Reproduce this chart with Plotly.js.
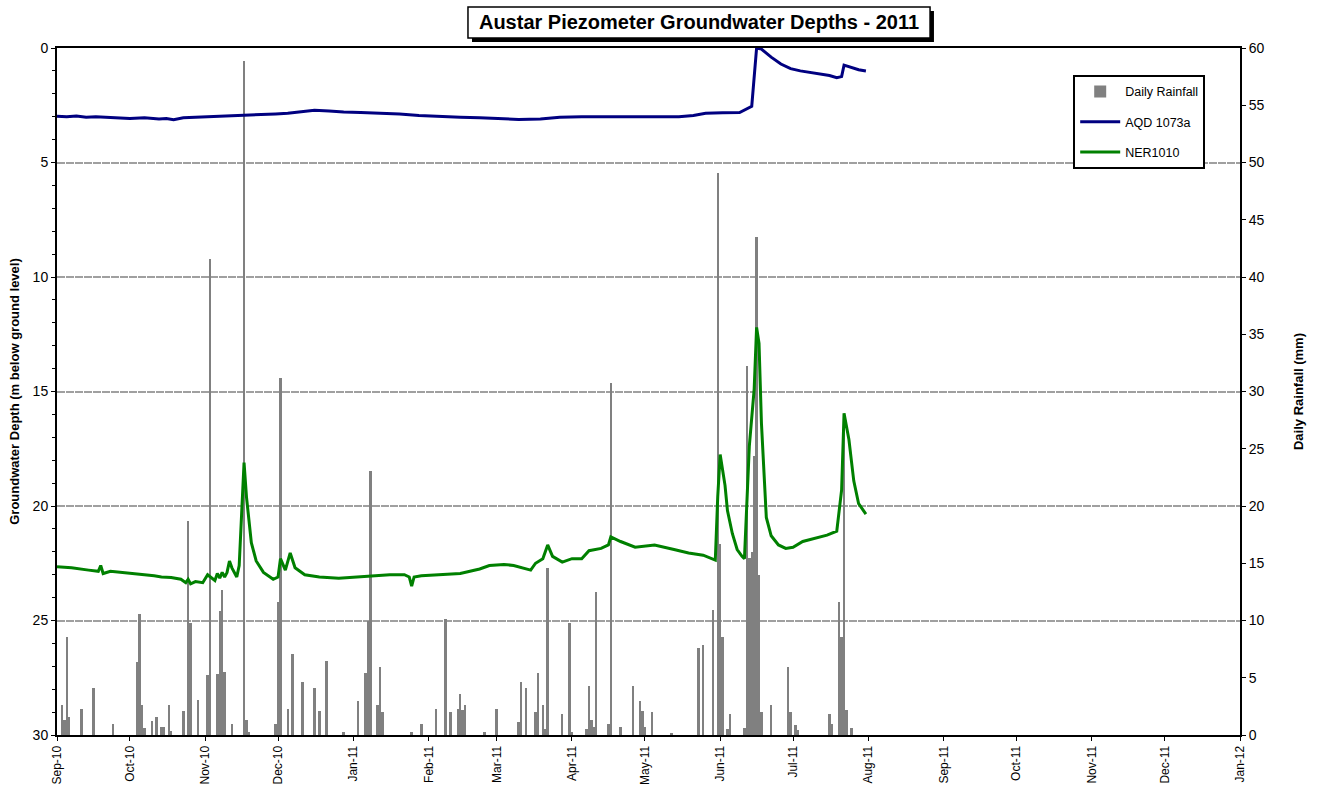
<!DOCTYPE html>
<html>
<head>
<meta charset="utf-8">
<script src="https://cdn.plot.ly/plotly-3.0.1.min.js"></script>
<style>html,body{margin:0;padding:0;background:#fff;}#chart{width:1320px;height:789px;}</style>
</head>
<body>
<div id="chart"></div>
<script>
// Daily rainfall (mm), right axis
var rainDates = ["2010-09-03","2010-09-04","2010-09-05","2010-09-06","2010-09-11","2010-09-16","2010-09-24",
"2010-10-04","2010-10-05","2010-10-06","2010-10-07","2010-10-10","2010-10-12","2010-10-14","2010-10-15","2010-10-17","2010-10-18","2010-10-23","2010-10-25","2010-10-26","2010-10-29",
"2010-11-02","2010-11-03","2010-11-06","2010-11-07","2010-11-08","2010-11-09","2010-11-12","2010-11-17","2010-11-18","2010-11-19","2010-11-30",
"2010-12-01","2010-12-02","2010-12-05","2010-12-07","2010-12-11","2010-12-16","2010-12-18","2010-12-21","2010-12-28",
"2011-01-03","2011-01-06","2011-01-07","2011-01-08","2011-01-11","2011-01-12","2011-01-13","2011-01-25","2011-01-29",
"2011-02-04","2011-02-08","2011-02-10","2011-02-13","2011-02-14","2011-02-15","2011-02-16","2011-02-24",
"2011-03-01","2011-03-10","2011-03-11","2011-03-13","2011-03-17","2011-03-18","2011-03-20","2011-03-21","2011-03-22","2011-03-28","2011-03-31",
"2011-04-01","2011-04-07","2011-04-08","2011-04-09","2011-04-10","2011-04-11","2011-04-16","2011-04-17","2011-04-21","2011-04-26","2011-04-29","2011-04-30",
"2011-05-01","2011-05-04","2011-05-12","2011-05-23","2011-05-25","2011-05-29","2011-05-31",
"2011-06-01","2011-06-02","2011-06-04","2011-06-05","2011-06-11","2011-06-12","2011-06-13","2011-06-14","2011-06-15","2011-06-16","2011-06-17","2011-06-18","2011-06-22","2011-06-29","2011-06-30",
"2011-07-02","2011-07-03","2011-07-16","2011-07-17","2011-07-20","2011-07-21","2011-07-22","2011-07-23","2011-07-25"];
var rainMm = [2.6,1.3,8.6,1.6,2.3,4.1,1.0,
6.4,10.6,2.6,0.6,1.2,1.6,0.7,0.7,2.6,0.35,2.1,18.7,9.8,3.1,
5.2,41.6,5.3,10.8,12.7,5.5,1.0,58.9,1.3,0.3,1.0,
11.6,31.2,2.3,7.1,4.6,4.1,2.1,6.5,0.3,
3.0,5.4,10.0,23.1,2.6,5.9,2.0,0.3,1.0,
2.3,10.1,2.0,2.3,3.6,2.2,2.6,0.3,
2.3,1.1,4.6,4.1,2.0,5.4,2.6,0.5,14.6,1.8,9.8,
0.3,0.5,4.3,1.3,0.7,12.5,1.0,30.7,0.7,4.3,3.0,2.1,
0.7,2.0,0.2,7.6,7.9,10.9,49.1,
16.7,8.6,0.5,1.8,0.6,32.2,15.5,16.0,24.4,43.5,14.0,2.0,2.6,5.9,2.0,
0.9,0.4,1.8,1.0,11.6,8.6,28.0,2.2,0.6];

// AQD 1073a groundwater depth (m below ground level), left axis
var aqdDates = ["2010-09-01","2010-09-05","2010-09-09","2010-09-13","2010-09-17","2010-09-21","2010-09-25","2010-10-01","2010-10-07","2010-10-13","2010-10-16","2010-10-19","2010-10-23","2010-10-31",
"2010-11-08","2010-11-15","2010-11-22","2010-11-30","2010-12-05","2010-12-10","2010-12-16","2010-12-22","2010-12-28",
"2011-01-04","2011-01-11","2011-01-20","2011-01-28","2011-02-06","2011-02-14","2011-02-22","2011-03-02","2011-03-10","2011-03-19","2011-03-27",
"2011-04-05","2011-04-13","2011-04-21","2011-04-29","2011-05-07","2011-05-15","2011-05-21","2011-05-26","2011-06-02","2011-06-09","2011-06-14",
"2011-06-16","2011-06-18","2011-06-22","2011-06-26","2011-06-30","2011-07-04","2011-07-10","2011-07-16","2011-07-19","2011-07-21","2011-07-22","2011-07-25","2011-07-28","2011-07-31"];
var aqdDepth = [2.98,3.0,2.97,3.02,3.0,3.03,3.05,3.08,3.05,3.1,3.08,3.13,3.05,3.02,
2.98,2.95,2.92,2.88,2.85,2.78,2.72,2.75,2.8,
2.82,2.85,2.88,2.95,3.0,3.02,3.05,3.1,3.12,3.1,3.02,
3.0,3.0,2.98,3.0,2.98,3.0,2.95,2.85,2.83,2.82,2.55,
0.0,0.05,0.4,0.7,0.9,1.0,1.1,1.2,1.3,1.25,0.75,0.85,0.95,1.0];

// NER1010 groundwater depth (m below ground level), left axis
var nerDates = ["2010-09-01","2010-09-07","2010-09-14","2010-09-18","2010-09-19","2010-09-20","2010-09-23","2010-09-28",
"2010-10-03","2010-10-07","2010-10-11","2010-10-14","2010-10-18","2010-10-22","2010-10-24","2010-10-25","2010-10-26","2010-10-28","2010-10-31",
"2010-11-02","2010-11-05","2010-11-06","2010-11-07","2010-11-08","2010-11-09","2010-11-10","2010-11-11","2010-11-12","2010-11-14","2010-11-15","2010-11-17","2010-11-18","2010-11-20","2010-11-22","2010-11-25","2010-11-29",
"2010-12-01","2010-12-02","2010-12-04","2010-12-06","2010-12-08","2010-12-12","2010-12-18","2010-12-26",
"2011-01-01","2011-01-09","2011-01-16","2011-01-22","2011-01-24","2011-01-25","2011-01-26","2011-01-29",
"2011-02-06","2011-02-14","2011-02-18","2011-02-22","2011-02-26",
"2011-03-04","2011-03-08","2011-03-11","2011-03-15","2011-03-17","2011-03-20","2011-03-22","2011-03-24","2011-03-28",
"2011-04-01","2011-04-05","2011-04-08","2011-04-13","2011-04-16","2011-04-17","2011-04-21","2011-04-27",
"2011-05-05","2011-05-13","2011-05-19","2011-05-25","2011-05-30","2011-05-31",
"2011-06-01","2011-06-03","2011-06-04","2011-06-06","2011-06-08","2011-06-10","2011-06-11","2011-06-13","2011-06-15","2011-06-16","2011-06-17","2011-06-18","2011-06-20","2011-06-22","2011-06-25","2011-06-28",
"2011-07-01","2011-07-05","2011-07-11","2011-07-15","2011-07-19","2011-07-21","2011-07-22","2011-07-24","2011-07-26","2011-07-28","2011-07-31"];
var nerDepth = [22.65,22.7,22.8,22.85,22.6,22.95,22.85,22.9,
22.95,23.0,23.05,23.1,23.12,23.2,23.35,23.2,23.4,23.3,23.35,
23.0,23.25,22.95,23.15,22.9,23.1,22.9,22.4,22.7,23.1,22.6,18.1,19.6,21.6,22.4,22.9,23.2,
23.1,22.3,22.8,22.05,22.7,23.0,23.1,23.15,
23.1,23.05,23.0,23.0,23.1,23.5,23.1,23.05,
23.0,22.95,22.85,22.75,22.6,
22.55,22.6,22.7,22.8,22.5,22.3,21.7,22.2,22.45,
22.3,22.3,21.95,21.85,21.7,21.35,21.55,21.8,
21.7,21.9,22.05,22.15,22.36,19.6,
17.75,19.1,20.2,21.2,21.9,22.2,22.3,17.4,14.9,12.2,12.9,16.4,20.5,21.3,21.7,21.85,
21.8,21.55,21.4,21.27,21.1,19.3,15.95,17.1,18.9,19.9,20.35];

var titleText = "Austar Piezometer Groundwater Depths - 2011";
var leftTitle = "Groundwater Depth (m below ground level)";
var rightTitle = "Daily Rainfall (mm)";

var FONT = "Arial, 'Liberation Sans', sans-serif";

var traces = [
  {type:'bar', name:'Daily Rainfall', x:rainDates, y:rainMm, yaxis:'y',
   marker:{color:'#808080', line:{width:0}}, legendgroup:'a', hoverinfo:'x+y'},
  {type:'scatter', mode:'lines', name:'AQD 1073a', x:aqdDates, y:aqdDepth, yaxis:'y2',
   line:{color:'#000080', width:3}, legendgroup:'b'},
  {type:'scatter', mode:'lines', name:'NER1010', x:nerDates, y:nerDepth, yaxis:'y2',
   line:{color:'#008000', width:3}, legendgroup:'c'}
];

var layout = {
  width:1320, height:789,
  margin:{l:57, r:80, t:48, b:54},
  paper_bgcolor:'#ffffff', plot_bgcolor:'#ffffff',
  font:{family:FONT, color:'#000000', size:12},
  bargap:0,
  showlegend:true,
  title:{text:titleText, xref:'paper', x:0.5427, xanchor:'center', yref:'container', y:0.9715, yanchor:'middle',
         font:{family:FONT, size:20, color:'#000', weight:'bold'}},
  legend:{x:0.859, y:0.9607, xanchor:'left', yanchor:'top', bgcolor:'#ffffff',
          bordercolor:'#000000', borderwidth:2, font:{family:FONT, size:12.5, color:'#000'},
          traceorder:'grouped', tracegroupgap:11, itemwidth:40},
  xaxis:{type:'date', range:['2010-09-01','2012-01-01'], tick0:'2010-09-01', dtick:'M1',
         tickformat:'%b-%y', tickangle:-90, tickfont:{family:FONT, size:12, color:'#000'},
         showgrid:false, zeroline:false, showline:true, linecolor:'#000', linewidth:2, mirror:true,
         ticks:'outside', ticklen:4, tickcolor:'#000'},
  yaxis:{range:[0,60], dtick:5, side:'right', showgrid:false, zeroline:false,
         showline:true, linecolor:'#000', linewidth:2, ticks:'outside', ticklen:4, tickcolor:'#000',
         tickfont:{family:FONT, size:14, color:'#000'},
         title:{text:rightTitle, font:{family:FONT, size:13, color:'#000', weight:'bold'}, standoff:30}},
  yaxis2:{range:[30,0], dtick:5, side:'left', overlaying:'y', showgrid:true,
          gridcolor:'#a0a0a0', gridwidth:2, griddash:'8px,1px', zeroline:false,
          showline:true, linecolor:'#000', linewidth:2, ticks:'outside', ticklen:4, tickcolor:'#000',
          minor:{dtick:1, ticks:'outside', ticklen:3, tickcolor:'#000', showgrid:false},
          tickfont:{family:FONT, size:14, color:'#000'},
          title:{text:leftTitle, font:{family:FONT, size:13, color:'#000', weight:'bold'}, standoff:10}},
  shapes:[
    {type:'rect', xref:'paper', yref:'paper', x0:0.3508, x1:0.7413, y0:1.0087, y1:1.0539,
     fillcolor:'#000000', line:{width:0}, layer:'above'},
    {type:'rect', xref:'paper', yref:'paper', x0:0.3474, x1:0.7380, y0:1.0146, y1:1.0597,
     fillcolor:'#ffffff', line:{color:'#000000', width:1.5}, layer:'above'}
  ]
};

Plotly.newPlot('chart', traces, layout, {displayModeBar:false, responsive:false});
</script>
</body>
</html>
